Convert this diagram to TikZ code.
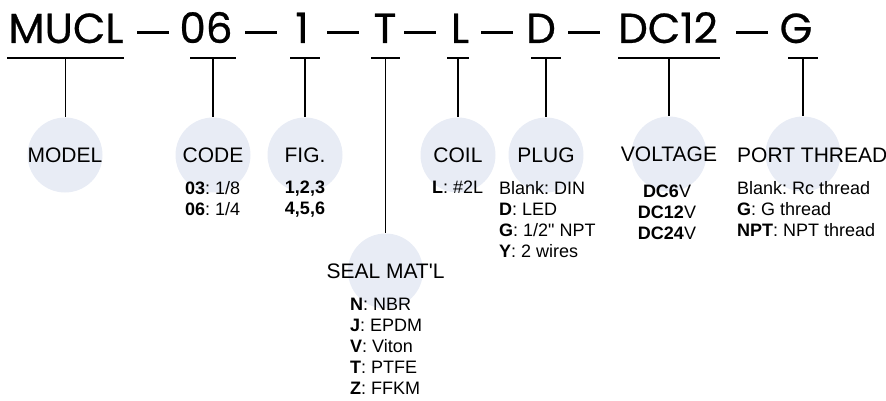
\documentclass[tikz,border=0pt]{standalone}
\usepackage{fontspec}
\setmainfont{Liberation Sans}
\newfontfamily\partfont{Poppins}[FakeBold=0.6]
\newfontfamily\rawfont{Liberation Sans}
\definecolor{dotfill}{HTML}{E8ECF5}
\newcommand{\partdash}{\rule[8.5pt]{32pt}{3pt}}
\frenchspacing

\begin{document}
\begin{tikzpicture}[x=1pt, y=-1pt,
    part/.style={font=\partfont\fontsize{42}{42}\selectfont, inner sep=0, anchor=base},
    dot/.style={circle, fill=dotfill, minimum size=75pt, inner sep=0},
    head/.style={font=\fontsize{21}{25}\selectfont, inner sep=0},
    desc/.style={font=\fontsize{18}{21}\selectfont, inner sep=0, align=left, anchor=north west},
    bar/.style={line width=1.2pt}]
    \useasboundingbox (0,0) rectangle (886,401);
    % Part number
    \node[part] (mucl) at (66,43) {MUCL};
    \node[part] (dash1) at (153,43) {\partdash};
    \node[part] (size) at (206,43) {06};
    \node[part] (dash2) at (261,43) {\partdash};
    \node[part] (fig) at (302,43) {1};
    \node[part] (dash3) at (343,43) {\partdash};
    \node[part] (seal) at (385,43) {T};
    \node[part] (dash4) at (420,43) {\partdash};
    \node[part] (coil) at (460,43) {L};
    \node[part] (dash5) at (497,43) {\partdash};
    \node[part] (plug) at (541,43) {D};
    \node[part] (dash6) at (584,43) {\partdash};
    \node[part] (volt) at (668,43) {DC12};
    \node[part] (dash7) at (752,43) {\partdash};
    \node[part] (port) at (796,43) {G};
    % Bars under the parts
    \draw[bar] (7,58) -- (124,58) coordinate[midway] (b1);
    \draw[bar] (190,58) -- (236,58) coordinate[midway] (b2);
    \draw[bar] (290,58) -- (320,58) coordinate[midway] (b3);
    \draw[bar] (371,58) -- (400,58) coordinate[midway] (b4);
    \draw[bar] (447,58) -- (469,58) coordinate[midway] (b5);
    \draw[bar] (531,58) -- (561,58) coordinate[midway] (b6);
    \draw[bar] (618,58) -- (720,58) coordinate[midway] (b7);
    \draw[bar] (788,58) -- (818,58) coordinate[midway] (b8);
    % Circles
    \node[dot] (cmodel) at (65,155) {};
    \node[dot] (ccode) at (213,155) {};
    \node[dot] (cfig) at (305,155) {};
    \node[dot] (cseal) at (385.5,271) {};
    \node[dot] (ccoil) at (458,155) {};
    \node[dot] (cplug) at (546,155) {};
    \node[dot] (cvolt) at (669,154) {};
    \node[dot] (cport) at (803,154) {};
    \foreach \b/\c in {b1/cmodel, b2/ccode, b3/cfig, b4/cseal, b5/ccoil, b6/cplug, b7/cvolt, b8/cport}
        \draw[bar] (\b) -- (\b |- \c.north);
    % Headings
    \node[head] (hmodel) at (cmodel) {MODEL};
    \node[head] (hcode) at (ccode) {CODE};
    \node[head] (hfig) at (cfig) {FIG.};
    \node[head] (hseal) at (cseal) {SEAL MAT\textquotesingle L};
    \node[head] (hcoil) at (ccoil) {COIL};
    \node[head] (hplug) at (cplug) {PLUG};
    \node[head] (hvolt) at (cvolt) {VOLTAGE};
    \node[head, anchor=west] (hport) at (737,155) {PORT THREAD};
    % Options
    \node[desc] (tcode) at (185,181) {\textbf{03}: 1/8\\\textbf{06}: 1/4};
    \node[desc, align=center, anchor=north] (tfig) at (305,181) {\textbf{1,2,3}\\\textbf{4,5,6}};
    \node[desc] (tseal) at (350,298) {\textbf{N}: NBR\\\textbf{J}: EPDM\\\textbf{V}: Viton\\\textbf{T}: PTFE\\\textbf{Z}: FFKM};
    \node[desc] (tcoil) at (432,181) {\textbf{L}: \#2L};
    \node[desc] (tplug) at (499,181) {Blank: DIN\\\textbf{D}: LED\\\textbf{G}: 1/2{\rawfont"} NPT\\\textbf{Y}: 2 wires};
    \node[desc, align=center, anchor=north] (tvolt) at (667,185) {\textbf{DC6}V\\\textbf{DC12}V\\\textbf{DC24}V};
    \node[desc] (tport) at (737,181) {Blank: Rc thread\\\textbf{G}: G thread\\\textbf{NPT}: NPT thread};
\end{tikzpicture}
\end{document}
